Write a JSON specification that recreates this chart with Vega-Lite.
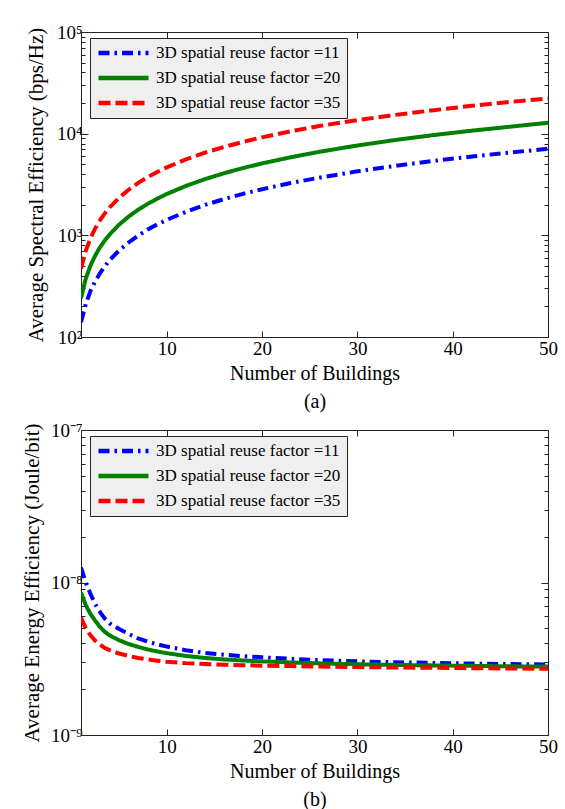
{
  "$schema": "https://vega.github.io/schema/vega-lite/v6.json",
  "padding": {"left": 21, "top": 23, "right": 4, "bottom": 0},
  "spacing": 10,
  "datasets": {
    "se": [
      {"N":1,"f":11,"v":140},{"N":1.5,"f":11,"v":210},{"N":2,"f":11,"v":285},{"N":2.5,"f":11,"v":355},{"N":3,"f":11,"v":425},{"N":3.5,"f":11,"v":495},{"N":4,"f":11,"v":570},{"N":5,"f":11,"v":710},{"N":6,"f":11,"v":850},{"N":7,"f":11,"v":995},{"N":8,"f":11,"v":1140},{"N":9,"f":11,"v":1280},{"N":10,"f":11,"v":1420},{"N":12,"f":11,"v":1700},{"N":14,"f":11,"v":1990},{"N":16,"f":11,"v":2270},{"N":18,"f":11,"v":2560},{"N":20,"f":11,"v":2840},{"N":23,"f":11,"v":3270},{"N":26,"f":11,"v":3690},{"N":30,"f":11,"v":4260},{"N":34,"f":11,"v":4830},{"N":38,"f":11,"v":5400},{"N":42,"f":11,"v":5960},{"N":46,"f":11,"v":6530},{"N":50,"f":11,"v":7100},
      {"N":1,"f":20,"v":240},{"N":1.5,"f":20,"v":375},{"N":2,"f":20,"v":505},{"N":2.5,"f":20,"v":635},{"N":3,"f":20,"v":765},{"N":3.5,"f":20,"v":890},{"N":4,"f":20,"v":1020},{"N":5,"f":20,"v":1275},{"N":6,"f":20,"v":1530},{"N":7,"f":20,"v":1785},{"N":8,"f":20,"v":2040},{"N":9,"f":20,"v":2295},{"N":10,"f":20,"v":2550},{"N":12,"f":20,"v":3060},{"N":14,"f":20,"v":3570},{"N":16,"f":20,"v":4080},{"N":18,"f":20,"v":4590},{"N":20,"f":20,"v":5100},{"N":23,"f":20,"v":5860},{"N":26,"f":20,"v":6630},{"N":30,"f":20,"v":7650},{"N":34,"f":20,"v":8670},{"N":38,"f":20,"v":9690},{"N":42,"f":20,"v":10700},{"N":46,"f":20,"v":11700},{"N":50,"f":20,"v":12800},
      {"N":1,"f":35,"v":470},{"N":1.5,"f":35,"v":705},{"N":2,"f":35,"v":940},{"N":2.5,"f":35,"v":1175},{"N":3,"f":35,"v":1410},{"N":3.5,"f":35,"v":1645},{"N":4,"f":35,"v":1880},{"N":5,"f":35,"v":2350},{"N":6,"f":35,"v":2810},{"N":7,"f":35,"v":3280},{"N":8,"f":35,"v":3740},{"N":9,"f":35,"v":4200},{"N":10,"f":35,"v":4660},{"N":12,"f":35,"v":5580},{"N":14,"f":35,"v":6500},{"N":16,"f":35,"v":7400},{"N":18,"f":35,"v":8300},{"N":20,"f":35,"v":9200},{"N":23,"f":35,"v":10550},{"N":26,"f":35,"v":11900},{"N":30,"f":35,"v":13600},{"N":34,"f":35,"v":15300},{"N":38,"f":35,"v":17000},{"N":42,"f":35,"v":18800},{"N":46,"f":35,"v":20500},{"N":50,"f":35,"v":22200}
    ],
    "ee": [
      {"N":1,"f":11,"v":1.25e-8},{"N":1.5,"f":11,"v":1.0e-8},{"N":2,"f":11,"v":8.4e-9},{"N":2.5,"f":11,"v":7.2e-9},{"N":3,"f":11,"v":6.4e-9},{"N":3.5,"f":11,"v":5.8e-9},{"N":4,"f":11,"v":5.4e-9},{"N":5,"f":11,"v":4.95e-9},{"N":6,"f":11,"v":4.6e-9},{"N":7,"f":11,"v":4.3e-9},{"N":8,"f":11,"v":4.1e-9},{"N":9,"f":11,"v":3.93e-9},{"N":10,"f":11,"v":3.8e-9},{"N":12,"f":11,"v":3.6e-9},{"N":14,"f":11,"v":3.45e-9},{"N":16,"f":11,"v":3.36e-9},{"N":18,"f":11,"v":3.29e-9},{"N":20,"f":11,"v":3.23e-9},{"N":23,"f":11,"v":3.16e-9},{"N":26,"f":11,"v":3.1e-9},{"N":30,"f":11,"v":3.04e-9},{"N":34,"f":11,"v":3.0e-9},{"N":38,"f":11,"v":2.97e-9},{"N":42,"f":11,"v":2.94e-9},{"N":46,"f":11,"v":2.92e-9},{"N":50,"f":11,"v":2.9e-9},
      {"N":1,"f":20,"v":8.6e-9},{"N":1.5,"f":20,"v":7.1e-9},{"N":2,"f":20,"v":6.2e-9},{"N":2.5,"f":20,"v":5.6e-9},{"N":3,"f":20,"v":5.1e-9},{"N":3.5,"f":20,"v":4.75e-9},{"N":4,"f":20,"v":4.5e-9},{"N":5,"f":20,"v":4.18e-9},{"N":6,"f":20,"v":3.95e-9},{"N":7,"f":20,"v":3.78e-9},{"N":8,"f":20,"v":3.64e-9},{"N":9,"f":20,"v":3.53e-9},{"N":10,"f":20,"v":3.44e-9},{"N":12,"f":20,"v":3.3e-9},{"N":14,"f":20,"v":3.2e-9},{"N":16,"f":20,"v":3.13e-9},{"N":18,"f":20,"v":3.08e-9},{"N":20,"f":20,"v":3.04e-9},{"N":23,"f":20,"v":2.99e-9},{"N":26,"f":20,"v":2.95e-9},{"N":30,"f":20,"v":2.91e-9},{"N":34,"f":20,"v":2.88e-9},{"N":38,"f":20,"v":2.86e-9},{"N":42,"f":20,"v":2.84e-9},{"N":46,"f":20,"v":2.82e-9},{"N":50,"f":20,"v":2.81e-9},
      {"N":1,"f":35,"v":5.9e-9},{"N":1.5,"f":35,"v":5.0e-9},{"N":2,"f":35,"v":4.5e-9},{"N":2.5,"f":35,"v":4.15e-9},{"N":3,"f":35,"v":3.9e-9},{"N":3.5,"f":35,"v":3.72e-9},{"N":4,"f":35,"v":3.6e-9},{"N":5,"f":35,"v":3.42e-9},{"N":6,"f":35,"v":3.3e-9},{"N":7,"f":35,"v":3.2e-9},{"N":8,"f":35,"v":3.13e-9},{"N":9,"f":35,"v":3.07e-9},{"N":10,"f":35,"v":3.02e-9},{"N":12,"f":35,"v":2.96e-9},{"N":14,"f":35,"v":2.92e-9},{"N":16,"f":35,"v":2.89e-9},{"N":18,"f":35,"v":2.87e-9},{"N":20,"f":35,"v":2.85e-9},{"N":23,"f":35,"v":2.83e-9},{"N":26,"f":35,"v":2.81e-9},{"N":30,"f":35,"v":2.79e-9},{"N":34,"f":35,"v":2.77e-9},{"N":38,"f":35,"v":2.76e-9},{"N":42,"f":35,"v":2.74e-9},{"N":46,"f":35,"v":2.73e-9},{"N":50,"f":35,"v":2.72e-9}
    ]
  },
  "vconcat": [
    {
      "width": 467,
      "height": 305,
      "data": {"name": "se"},
      "layer": [
        {
          "mark": {"type": "line", "strokeWidth": 4, "clip": true},
          "encoding": {
            "x": {"field": "N", "type": "quantitative", "scale": {"domain": [1, 50], "nice": false, "zero": false},
              "axis": {"values": [10, 20, 30, 40, 50], "title": ["Number of Buildings", "(a)"], "titleLineHeight": 28, "titlePadding": 5, "tickSize": -6, "labelPadding": 8, "labelFlush": false}},
            "y": {"field": "v", "type": "quantitative", "scale": {"type": "log", "domain": [100, 100000], "nice": false},
              "axis": {"values": [100,200,300,400,500,600,700,800,900,1000,2000,3000,4000,5000,6000,7000,8000,9000,10000,20000,30000,40000,50000,60000,70000,80000,90000,100000],
                "labelExpr": "datum.value==100?'10²':datum.value==1000?'10³':datum.value==10000?'10⁴':datum.value==100000?'10⁵':''",
                "tickSize": {"condition": {"test": "indexof([100,1000,10000,100000], datum.value) >= 0", "value": -7}, "value": -4},
                "labelPadding": 6, "title": "Average Spectral Efficiency (bps/Hz)", "titleFontSize": 21, "titlePadding": 10}},
            "color": {"field": "f", "type": "nominal", "scale": {"domain": [11, 20, 35], "range": ["#0000ff", "#008000", "#ff0000"]},
              "legend": {"orient": "none", "legendX": 9, "legendY": 6, "title": null, "labelExpr": "'3D spatial reuse factor =' + datum.label"}},
            "strokeDash": {"field": "f", "type": "nominal", "scale": {"domain": [11, 20, 35], "range": [[11, 5, 2.5, 5], [1, 0], [12, 5]]},
              "legend": {"orient": "none", "legendX": 9, "legendY": 6, "title": null, "labelExpr": "'3D spatial reuse factor =' + datum.label"}}
          }
        },
        {
          "mark": {"type": "line", "opacity": 0},
          "encoding": {
            "x": {"field": "N", "type": "quantitative", "axis": {"orient": "top", "values": [10, 20, 30, 40, 50], "labels": false, "title": null, "tickSize": -6}},
            "y": {"field": "v", "type": "quantitative",
              "axis": {"orient": "right", "values": [100,200,300,400,500,600,700,800,900,1000,2000,3000,4000,5000,6000,7000,8000,9000,10000,20000,30000,40000,50000,60000,70000,80000,90000,100000],
                "labels": false, "title": null,
                "tickSize": {"condition": {"test": "indexof([100,1000,10000,100000], datum.value) >= 0", "value": -7}, "value": -4}}}
          }
        }
      ],
      "resolve": {"axis": {"x": "independent", "y": "independent"}}
    },
    {
      "width": 467,
      "height": 305,
      "data": {"name": "ee"},
      "layer": [
        {
          "mark": {"type": "line", "strokeWidth": 4, "clip": true},
          "encoding": {
            "x": {"field": "N", "type": "quantitative", "scale": {"domain": [1, 50], "nice": false, "zero": false},
              "axis": {"values": [10, 20, 30, 40, 50], "title": ["Number of Buildings", "(b)"], "titleLineHeight": 28, "titlePadding": 5, "tickSize": -6, "labelPadding": 8, "labelFlush": false}},
            "y": {"field": "v", "type": "quantitative", "scale": {"type": "log", "domain": [1e-9, 1e-7], "nice": false},
              "axis": {"values": [1e-9,2e-9,3e-9,4e-9,5e-9,6e-9,7e-9,8e-9,9e-9,1e-8,2e-8,3e-8,4e-8,5e-8,6e-8,7e-8,8e-8,9e-8,1e-7],
                "labelExpr": "datum.value==1e-9?'10⁻⁹':datum.value==1e-8?'10⁻⁸':datum.value==1e-7?'10⁻⁷':''",
                "tickSize": {"condition": {"test": "indexof([1e-9,1e-8,1e-7], datum.value) >= 0", "value": -7}, "value": -4},
                "labelPadding": 6, "title": "Average Energy Efficiency (Joule/bit)", "titleFontSize": 21, "titlePadding": 8}},
            "color": {"field": "f", "type": "nominal", "scale": {"domain": [11, 20, 35], "range": ["#0000ff", "#008000", "#ff0000"]},
              "legend": {"orient": "none", "legendX": 9, "legendY": 6, "title": null, "labelExpr": "'3D spatial reuse factor =' + datum.label"}},
            "strokeDash": {"field": "f", "type": "nominal", "scale": {"domain": [11, 20, 35], "range": [[11, 5, 2.5, 5], [1, 0], [12, 5]]},
              "legend": {"orient": "none", "legendX": 9, "legendY": 6, "title": null, "labelExpr": "'3D spatial reuse factor =' + datum.label"}}
          }
        },
        {
          "mark": {"type": "line", "opacity": 0},
          "encoding": {
            "x": {"field": "N", "type": "quantitative", "axis": {"orient": "top", "values": [10, 20, 30, 40, 50], "labels": false, "title": null, "tickSize": -6}},
            "y": {"field": "v", "type": "quantitative",
              "axis": {"orient": "right", "values": [1e-9,2e-9,3e-9,4e-9,5e-9,6e-9,7e-9,8e-9,9e-9,1e-8,2e-8,3e-8,4e-8,5e-8,6e-8,7e-8,8e-8,9e-8,1e-7],
                "labels": false, "title": null,
                "tickSize": {"condition": {"test": "indexof([1e-9,1e-8,1e-7], datum.value) >= 0", "value": -7}, "value": -4}}}
          }
        }
      ],
      "resolve": {"axis": {"x": "independent", "y": "independent"}}
    }
  ],
  "resolve": {"scale": {"x": "independent", "y": "independent", "color": "independent", "strokeDash": "independent"}},
  "config": {
    "font": "Liberation Serif",
    "view": {"stroke": null},
    "axis": {"labelFont": "Liberation Serif", "labelFontSize": 19, "labelColor": "#000", "titleFont": "Liberation Serif", "titleFontSize": 20, "titleFontWeight": "normal", "titleColor": "#000", "domainColor": "#222", "tickColor": "#222", "grid": false, "labelOverlap": false},
    "legend": {"fillColor": "#efefef", "strokeColor": "#222", "padding": 6, "symbolType": "stroke", "symbolSize": 2500, "symbolStrokeWidth": 4.5, "labelFont": "Liberation Serif", "labelFontSize": 17, "labelColor": "#000", "labelOffset": 5, "rowPadding": 7, "clipHeight": 18, "labelLimit": 400}
  }
}
